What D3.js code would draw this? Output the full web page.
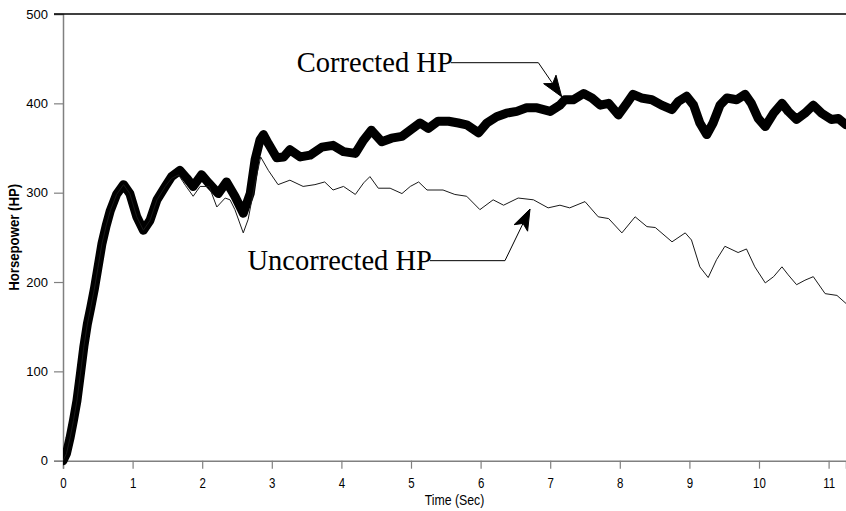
<!DOCTYPE html>
<html>
<head>
<meta charset="utf-8">
<script src="https://cdn.jsdelivr.net/npm/d3@7"></script>
<style>
  html, body { margin: 0; padding: 0; background: #fff; }
  svg { display: block; }
</style>
</head>
<body>
<svg id="chart" width="846" height="511"></svg>
<script>
// Corrected horsepower trace (time in seconds, HP)
const correctedTime = [0,0.05,0.1,0.15,0.2,0.25,0.3,0.35,0.4,0.45,0.5,0.56,0.62,0.68,0.77,0.87,0.96,1.06,1.155,1.25,1.35,1.47,1.56,1.68,1.78,1.87,1.99,2.09,2.23,2.35,2.47,2.59,2.69,2.76,2.83,2.88,2.95,3.07,3.17,3.26,3.41,3.55,3.72,3.88,4.03,4.20,4.32,4.43,4.58,4.72,4.87,4.99,5.13,5.25,5.39,5.54,5.68,5.80,5.97,6.09,6.23,6.37,6.52,6.66,6.81,7.0,7.14,7.21,7.33,7.48,7.60,7.72,7.84,7.98,8.10,8.19,8.31,8.46,8.60,8.75,8.84,8.96,9.06,9.15,9.25,9.34,9.44,9.54,9.68,9.80,9.89,9.99,10.09,10.21,10.33,10.42,10.54,10.66,10.78,10.90,11.04,11.14,11.25];
const correctedHP = [0,8,25,45,67,97,128,153,172,192,215,243,263,280,298,309,299,273,258,269,292,307,318,325,316,307,320,311,299,312,296,277,299,337,359,365,355,339,340,348,340,342,351,353,346,344,359,370,357,361,363,370,378,372,380,380,378,376,367,378,385,389,391,395,395,391,398,404,404,411,406,398,400,387,400,410,406,404,398,393,402,408,398,378,365,378,398,406,404,410,400,383,374,389,400,391,382,389,398,389,382,383,376];

// Uncorrected horsepower trace
const uncorrectedTime = [0,0.05,0.1,0.15,0.2,0.25,0.3,0.35,0.4,0.45,0.5,0.56,0.62,0.68,0.77,0.87,0.96,1.06,1.155,1.25,1.35,1.47,1.56,1.66,1.76,1.87,1.97,2.1,2.21,2.33,2.4,2.47,2.59,2.66,2.76,2.84,2.95,3.09,3.26,3.45,3.62,3.76,3.88,4.03,4.20,4.32,4.41,4.53,4.70,4.87,4.99,5.11,5.23,5.46,5.63,5.80,5.99,6.18,6.33,6.54,6.76,6.97,7.14,7.28,7.50,7.69,7.84,8.03,8.22,8.39,8.51,8.75,8.94,9.03,9.15,9.27,9.39,9.51,9.70,9.82,9.94,10.09,10.21,10.33,10.42,10.54,10.66,10.78,10.95,11.12,11.25];
const uncorrectedHP = [0,8,25,45,67,97,128,153,172,192,215,243,263,280,298,309,299,273,258,269,292,307,316,320,308,296,307,307,284,294,292,281,255,270,311,340,325,309,314,307,309,312,303,307,298,311,318,305,305,299,307,312,303,303,298,296,281,292,286,294,292,283,286,283,290,273,271,255,273,262,261,245,255,247,217,205,225,240,233,237,217,199,206,217,208,197,202,206,187,185,176];

// Axis ticks
const xTicks = [0,1,2,3,4,5,6,7,8,9,10,11];
const yTicks = [0,100,200,300,400,500];

// Callout labels: text end, elbow and arrow tip in data units
const callouts = [
  { label: "Corrected HP",   textEnd: [5.60, 435.4], elbow: [6.83, 445.5], tip: [7.165, 407.4] },
  { label: "Uncorrected HP", textEnd: [5.30, 213.5], elbow: [6.35, 223.9], tip: [6.71, 281.7] }
];

const svg = d3.select("#chart");
const plotLeft = 63, plotRight = 846, plotTop = 14, plotBottom = 460.7;
const narrowFont = "Liberation Sans, Arial, sans-serif";

const x = d3.scaleLinear().domain([0, 11.25]).range([plotLeft, plotRight]);
const y = d3.scaleLinear().domain([0, 500]).range([plotBottom, plotTop]);

svg.append("defs").append("clipPath").attr("id", "plot")
  .append("rect").attr("x", plotLeft).attr("y", 0)
  .attr("width", plotRight - plotLeft).attr("height", plotBottom + 6);

// Y axis
const yAxis = svg.append("g").attr("transform", `translate(${plotLeft},0)`)
  .call(d3.axisLeft(y).tickValues(yTicks).tickSize(9).tickPadding(6).tickFormat(d3.format("d")));
yAxis.select(".domain").attr("stroke", "#808080").attr("stroke-width", 1.5);
yAxis.selectAll(".tick line").attr("stroke", "#808080").attr("stroke-width", 1.2);
yAxis.selectAll(".tick text").attr("font-family", narrowFont)
  .attr("font-size", 13).attr("fill", "#000");

// X axis (labels drawn in a condensed style)
const xAxis = svg.append("g").attr("transform", `translate(0,${plotBottom})`)
  .call(d3.axisBottom(x).tickValues(xTicks).tickSize(8).tickPadding(9).tickFormat(d3.format("d")));
xAxis.select(".domain").attr("stroke", "#808080").attr("stroke-width", 1.5);
xAxis.selectAll(".tick line").attr("stroke", "#808080").attr("stroke-width", 1.2);
xAxis.selectAll(".tick text").attr("font-family", narrowFont)
  .attr("font-size", 14).attr("fill", "#000").attr("transform", "scale(0.82,1)");

// Top frame line
svg.append("line").attr("x1", plotLeft - 9).attr("x2", plotRight).attr("y1", y(500)).attr("y2", y(500))
  .attr("stroke", "#000").attr("stroke-width", 1.5);

// Axis titles
svg.append("text")
  .attr("transform", `translate(${(plotLeft + plotRight) / 2},505) scale(0.85,1)`)
  .attr("text-anchor", "middle")
  .attr("font-family", narrowFont)
  .attr("font-size", 14.5).text("Time (Sec)");
svg.append("text")
  .attr("transform", `translate(19,${(plotTop + plotBottom) / 2}) rotate(-90) scale(0.88,1)`)
  .attr("text-anchor", "middle")
  .attr("font-family", narrowFont)
  .attr("font-weight", "bold").attr("font-size", 15).text("Horsepower (HP)");

// Traces
const line = d3.line().x(d => x(d[0])).y(d => y(d[1]));
const plot = svg.append("g").attr("clip-path", "url(#plot)");

plot.append("path")
  .datum(correctedTime.map((t, i) => [t, correctedHP[i]]))
  .attr("d", line).attr("fill", "none").attr("stroke", "#000")
  .attr("stroke-width", 9).attr("stroke-linejoin", "round").attr("stroke-linecap", "round");

plot.append("path")
  .datum(uncorrectedTime.map((t, i) => [t, uncorrectedHP[i]]))
  .attr("d", line).attr("fill", "none").attr("stroke", "#1a1a1a")
  .attr("stroke-width", 1);

// Callouts with leader lines and filled arrowheads
callouts.forEach(c => {
  const tx = x(c.textEnd[0]), ty = y(c.textEnd[1]);
  const ex = x(c.elbow[0]), ey = y(c.elbow[1]);
  const px = x(c.tip[0]), py = y(c.tip[1]);
  svg.append("text").attr("x", tx).attr("y", ty).attr("text-anchor", "end")
    .attr("font-family", "Liberation Serif, Times New Roman, serif")
    .attr("font-size", 28.5).attr("fill", "#000").text(c.label);
  svg.append("path")
    .attr("d", `M${tx - 2},${ey}L${ex},${ey}L${px},${py}`)
    .attr("fill", "none").attr("stroke", "#000").attr("stroke-width", 1);
  const dx = px - ex, dy = py - ey, len = Math.hypot(dx, dy);
  const ux = dx / len, uy = dy / len;
  const hl = 21, hw = 7.5;
  const bx = px - ux * hl, by = py - uy * hl;
  const nx = bx + ux * 5, ny = by + uy * 5;
  svg.append("path")
    .attr("d", `M${px},${py}L${bx - uy * hw},${by + ux * hw}L${nx},${ny}L${bx + uy * hw},${by - ux * hw}Z`)
    .attr("fill", "#000").attr("stroke", "#000").attr("stroke-width", 1);
});
</script>
</body>
</html>
